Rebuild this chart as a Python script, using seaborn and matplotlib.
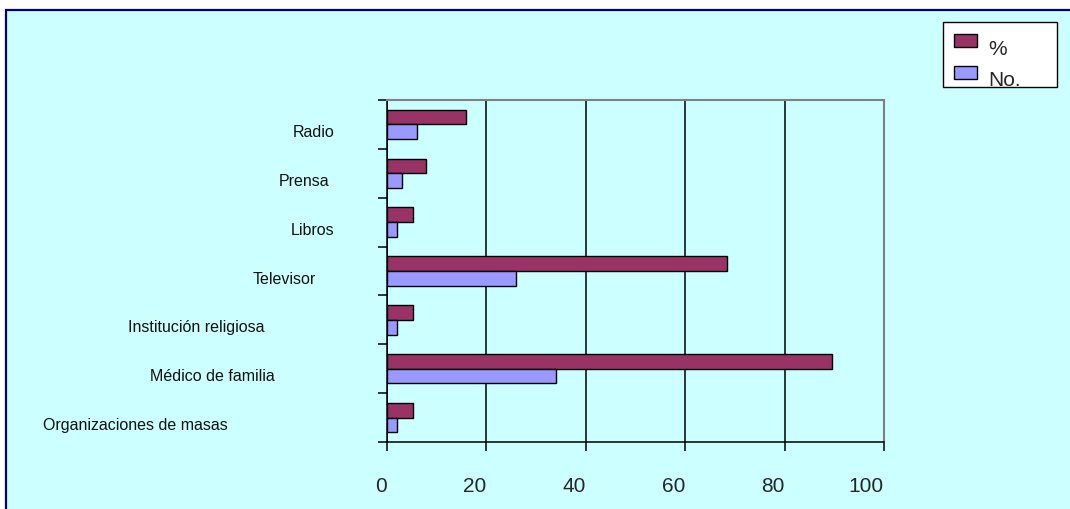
import matplotlib
matplotlib.use("Agg")
import matplotlib.pyplot as plt
import matplotlib.transforms as mtransforms
from matplotlib.patches import Rectangle
import pandas as pd
import seaborn as sns

# Fuentes de información (de arriba hacia abajo)
categorias = ["Radio", "Prensa", "Libros", "Televisor",
              "Institución religiosa", "Médico de familia",
              "Organizaciones de masas"]
numero = [6, 3, 2, 26, 2, 34, 2]
porcentaje = [15.8, 7.9, 5.3, 68.4, 5.3, 89.5, 5.3]
series = ["%", "No."]
x_ticks = [0, 20, 40, 60, 80, 100]

df = pd.DataFrame({
    "categoria": categorias * 2,
    "serie": [series[0]] * len(categorias) + [series[1]] * len(categorias),
    "valor": porcentaje + numero,
})

sns.set_style("white")
plt.rcParams["font.family"] = ["Liberation Sans", "DejaVu Sans"]

W, H, DPI = 1070, 510, 100
fig = plt.figure(figsize=(W / DPI, H / DPI), dpi=DPI)
fig.patch.set_facecolor("white")

bg = "#CCFFFF"
# chart-area frame
frame = Rectangle((6 / W, -0.05), 1.1, 1 - 11 / H + 0.05, transform=fig.transFigure,
                  facecolor=bg, edgecolor="#000080", linewidth=1.6, zorder=-5)
fig.patches.append(frame)

ax = fig.add_axes([387 / W, 1 - 443 / H, (884 - 387) / W, (443 - 101) / H])
ax.set_zorder(1)
ax.set_facecolor("none")

sns.barplot(data=df, y="categoria", x="valor", hue="serie", order=categorias,
            hue_order=series, palette=["#993366", "#9999FF"], orient="h",
            width=0.6, edgecolor="black", linewidth=1.0, saturation=1,
            legend=False, ax=ax)

ax.set_xlim(0, 100)
ax.set_ylim(len(categorias) - 0.5, -0.5)
ax.set_xlabel("")
ax.set_ylabel("")

# x axis
ax.set_xticks(x_ticks)
ax.set_xticklabels([str(v) for v in x_ticks], fontsize=15, ha="right")
shift = mtransforms.ScaledTranslation(3 / 72, 0, fig.dpi_scale_trans)
for lab in ax.get_xticklabels():
    lab.set_transform(lab.get_transform() + shift)
ax.tick_params(axis="x", direction="out", length=6.5, width=1.1, color="black",
               pad=18, bottom=True)

# y axis: ticks on category boundaries, labels drawn separately
ax.set_yticks([i - 0.5 for i in range(len(categorias) + 1)])
ax.set_yticklabels([])
ax.tick_params(axis="y", direction="out", length=6.5, width=1.1, color="black", left=True)

label_shift_px = [53, 58, 53, 71, 123, 112, 159]
trans = mtransforms.blended_transform_factory(ax.transAxes, ax.transData)
for i, (cat, dx) in enumerate(zip(categorias, label_shift_px)):
    off = mtransforms.ScaledTranslation(-dx / DPI, -7 / DPI, fig.dpi_scale_trans)
    ax.text(0, i, cat, transform=trans + off, ha="right", va="center",
            fontsize=11.5, color="#111111")

ax.grid(axis="x", color="black", linewidth=1.1)
ax.grid(axis="y", visible=False)
ax.set_axisbelow(True)

for side in ["left", "bottom"]:
    ax.spines[side].set_color("black")
    ax.spines[side].set_linewidth(1.1)
for side in ["top", "right"]:
    ax.spines[side].set_visible(True)
    ax.spines[side].set_color("#808080")
    ax.spines[side].set_linewidth(1.5)

# legend
box = Rectangle((943 / W, 1 - 88 / H), (1057 - 943) / W, (88 - 23) / H,
                transform=fig.transFigure, facecolor="white", edgecolor="black",
                linewidth=1.0, zorder=2)
fig.patches.append(box)

handles = [Rectangle((0, 0), 1, 1, facecolor=c, edgecolor="black", linewidth=1.0)
           for c in ["#993366", "#9999FF"]]
leg = fig.legend(handles, series, loc="upper left",
                 bbox_to_anchor=(954 / W, 1 - 34 / H), frameon=False,
                 fontsize=15, borderpad=0, borderaxespad=0,
                 handlelength=1.1, handleheight=0.6, handletextpad=0.55,
                 labelspacing=0.6)
leg.set_zorder(3)
drop = mtransforms.ScaledTranslation(0, -6 / DPI, fig.dpi_scale_trans)
for t in leg.get_texts():
    t.set_transform(t.get_transform() + drop)
    t.set_clip_path(box)

fig.savefig("out.png", dpi=DPI)
